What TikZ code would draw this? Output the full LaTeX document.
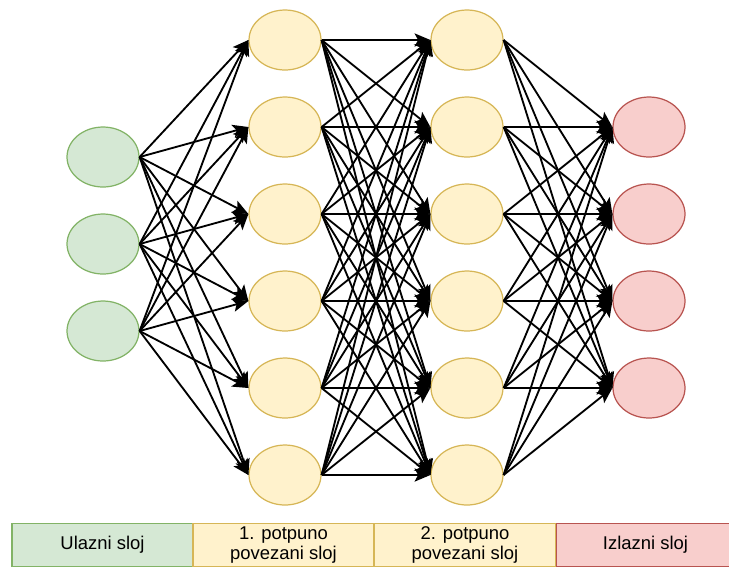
\documentclass[tikz,border=0pt]{standalone}
\usepackage{fontspec}
\setmainfont{Liberation Sans}
\usetikzlibrary{arrows.meta,shapes.geometric}
\definecolor{ulazfill}{HTML}{D5E8D4}
\definecolor{ulazline}{HTML}{82B366}
\definecolor{skrivfill}{HTML}{FFF2CC}
\definecolor{skrivline}{HTML}{D6B656}
\definecolor{izlazfill}{HTML}{F8CECC}
\definecolor{izlazline}{HTML}{B85450}
\tikzset{
  neuron/.style={shape=ellipse,inner sep=0pt,minimum width=1.44cm,minimum height=1.2cm,line width=0.7pt},
  layerbox/.style={shape=rectangle,inner sep=0pt,outer sep=0pt,minimum height=0.86cm,line width=0.6pt,
    align=center,font=\fontsize{10.5}{11.5}\selectfont},
  veza/.style={-{Stealth[length=9pt,width=7.5pt,inset=2pt]},line width=1.05pt,color=black}
}
\begin{document}
\begin{tikzpicture}[x=0.02cm,y=-0.02cm]
\useasboundingbox (0,0) rectangle (729,566);

% ulazni sloj
\node[neuron,draw=ulazline,fill=ulazfill] (U1) at (103,157) {};
\node[neuron,draw=ulazline,fill=ulazfill] (U2) at (103,244) {};
\node[neuron,draw=ulazline,fill=ulazfill] (U3) at (103,331) {};

% 1. potpuno povezani sloj
\node[neuron,draw=skrivline,fill=skrivfill] (P1) at (285,40) {};
\node[neuron,draw=skrivline,fill=skrivfill] (P2) at (285,127) {};
\node[neuron,draw=skrivline,fill=skrivfill] (P3) at (285,214) {};
\node[neuron,draw=skrivline,fill=skrivfill] (P4) at (285,301) {};
\node[neuron,draw=skrivline,fill=skrivfill] (P5) at (285,388) {};
\node[neuron,draw=skrivline,fill=skrivfill] (P6) at (285,475) {};

% 2. potpuno povezani sloj
\node[neuron,draw=skrivline,fill=skrivfill] (Q1) at (467,40) {};
\node[neuron,draw=skrivline,fill=skrivfill] (Q2) at (467,127) {};
\node[neuron,draw=skrivline,fill=skrivfill] (Q3) at (467,214) {};
\node[neuron,draw=skrivline,fill=skrivfill] (Q4) at (467,301) {};
\node[neuron,draw=skrivline,fill=skrivfill] (Q5) at (467,388) {};
\node[neuron,draw=skrivline,fill=skrivfill] (Q6) at (467,475) {};

% izlazni sloj
\node[neuron,draw=izlazline,fill=izlazfill] (Z1) at (649,127) {};
\node[neuron,draw=izlazline,fill=izlazfill] (Z2) at (649,214) {};
\node[neuron,draw=izlazline,fill=izlazfill] (Z3) at (649,301) {};
\node[neuron,draw=izlazline,fill=izlazfill] (Z4) at (649,388) {};

% veze
\foreach \i in {1,2,3}
  \foreach \j in {1,...,6}
    \path [veza] (U\i.east) edge (P\j.west);
\foreach \i in {1,...,6}
  \foreach \j in {1,...,6}
    \path [veza] (P\i.east) edge (Q\j.west);
\foreach \i in {1,...,6}
  \foreach \j in {1,...,4}
    \path [veza] (Q\i.east) edge (Z\j.west);

% legenda
\node[layerbox,draw=ulazline,fill=ulazfill,minimum width=3.62cm] (L1) at (102.5,545) {Ulazni sloj};
\node[layerbox,draw=skrivline,fill=skrivfill,minimum width=3.62cm] (L2) at (283.5,545) {1. potpuno\\povezani sloj};
\node[layerbox,draw=skrivline,fill=skrivfill,minimum width=3.64cm] (L3) at (465,545) {2. potpuno\\povezani sloj};
\node[layerbox,draw=izlazline,fill=izlazfill,minimum width=3.58cm] (L4) at (645.5,545) {Izlazni sloj};
\end{tikzpicture}
\end{document}
